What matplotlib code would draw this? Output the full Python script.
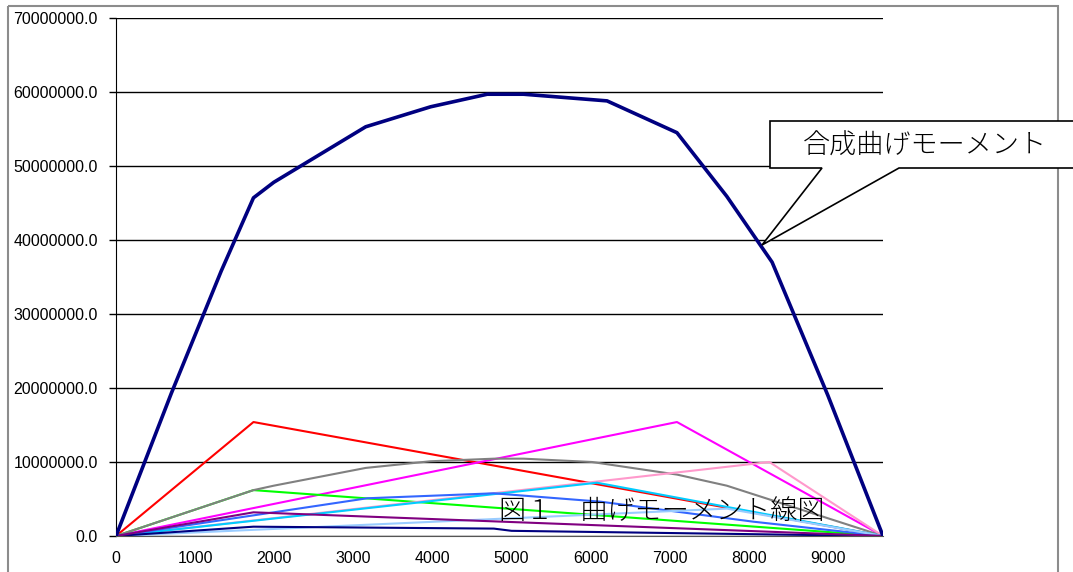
import matplotlib
matplotlib.use("Agg")
import matplotlib.pyplot as plt
from matplotlib.patches import Polygon, Rectangle

# positions along the beam (mm) and moments (N*mm)
x_total = [0, 700, 1330, 1738, 1995, 3157, 3977, 4693, 5152, 6208, 7092, 7722, 8295, 9000, 9697]
m_total = [0, 19.3e6, 35.8e6, 45.7e6, 47.8e6, 55.3e6, 58.0e6, 59.7e6, 59.7e6, 58.8e6, 54.5e6, 45.9e6, 37.0e6, 19.0e6, 0]

x_red = [0, 1738, 9697]
m_red = [0, 15.4e6, 0]
x_magenta = [0, 7092, 9697]
m_magenta = [0, 15.4e6, 0]
x_green = [0, 1738, 9697]
m_green = [0, 6.2e6, 0]
x_grey = [0, 1738, 1995, 3157, 3977, 4777, 5152, 6018, 7092, 7722, 9697]
m_grey = [0, 6.2e6, 6.8e6, 9.2e6, 10.1e6, 10.45e6, 10.45e6, 10.0e6, 8.3e6, 6.8e6, 0]
x_pink = [0, 8260, 9697]
m_pink = [0, 10.0e6, 0]
x_cyan = [0, 6082, 9697]
m_cyan = [0, 7.2e6, 0]
x_blue = [0, 3177, 4777, 6124, 8061, 9697]
m_blue = [0, 5.1e6, 5.77e6, 4.64e6, 1.93e6, 0]
x_lblue = [0, 7722, 9697]
m_lblue = [0, 3.7e6, 0]
x_navy = [0, 1738, 4777, 5000, 9697]
m_navy = [0, 1.26e6, 1.0e6, 0.7e6, 0]
x_purple = [0, 1738, 9697]
m_purple = [0, 3.2e6, 0]

yticks = [0, 10e6, 20e6, 30e6, 40e6, 50e6, 60e6, 70e6]
xticks = [0, 1000, 2000, 3000, 4000, 5000, 6000, 7000, 8000, 9000]

W, H = 1073, 572


def px(x, y):
    return (x / W, 1 - y / H)


fig = plt.figure(figsize=(W / 100, H / 100), dpi=100)
fig.patches.append(Rectangle(px(8, 6), (1058 - 8) / W, -1, transform=fig.transFigure,
                             fill=False, edgecolor="#8c8c8c", linewidth=1.5))

ax = fig.add_axes([116 / W, 1 - 536 / H, (883 - 116) / W, (536 - 18) / H])
ax.set_xlim(0, 9697)
ax.set_ylim(0, 70e6)

ax.plot(x_total, m_total, color="#000080", lw=2.6, zorder=3)
ax.plot(x_red, m_red, color="#FF0000", lw=1.5, zorder=2)
ax.plot(x_magenta, m_magenta, color="#FF00FF", lw=1.5, zorder=2)
ax.plot(x_green, m_green, color="#00FF00", lw=1.5, zorder=2)
ax.plot(x_grey, m_grey, color="#808080", lw=1.5, zorder=2)
ax.plot(x_pink, m_pink, color="#FF99CC", lw=1.5, zorder=2)
ax.plot(x_cyan, m_cyan, color="#00CCFF", lw=1.5, zorder=2)
ax.plot(x_blue, m_blue, color="#3366FF", lw=1.5, zorder=2)
ax.plot(x_lblue, m_lblue, color="#99CCFF", lw=1.5, zorder=2)
ax.plot(x_navy, m_navy, color="#000080", lw=1.5, zorder=2)
ax.plot(x_purple, m_purple, color="#800080", lw=1.5, zorder=2)

ax.set_yticks(yticks)
ax.set_yticklabels(["%.1f" % v for v in yticks])
ax.set_xticks(xticks)
ax.set_xticklabels([str(v) for v in xticks])
ax.tick_params(axis="y", length=5, width=1, pad=8, labelsize=11.5)
ax.tick_params(axis="x", length=0, pad=11, labelsize=11.5)
for lab in ax.get_xticklabels() + ax.get_yticklabels():
    lab.set_fontfamily("Liberation Sans")
ax.grid(axis="y", color="black", lw=1)
ax.set_axisbelow(True)
for s in ["top", "right"]:
    ax.spines[s].set_visible(False)
ax.spines["left"].set_color("black")
ax.spines["bottom"].set_color("#555555")

fig.text(*px(662, 511), "図１　曲げモーメント線図", ha="center", va="center",
         fontsize=19.5, family=["Noto Sans CJK JP", "DejaVu Sans"], fontweight="light", zorder=5)

callout = [px(770, 121), px(1090, 121), px(1090, 168), px(899, 168),
           px(762, 245), px(822, 168), px(770, 168)]
fig.patches.append(Polygon(callout, closed=True, transform=fig.transFigure,
                           facecolor="white", edgecolor="black", linewidth=1.2, zorder=6))
fig.text(*px(925, 146), "合成曲げモーメント", ha="center", va="center",
         fontsize=19.5, family=["Noto Sans CJK JP", "DejaVu Sans"], fontweight="light", zorder=7)

fig.savefig("out.png", dpi=100)
